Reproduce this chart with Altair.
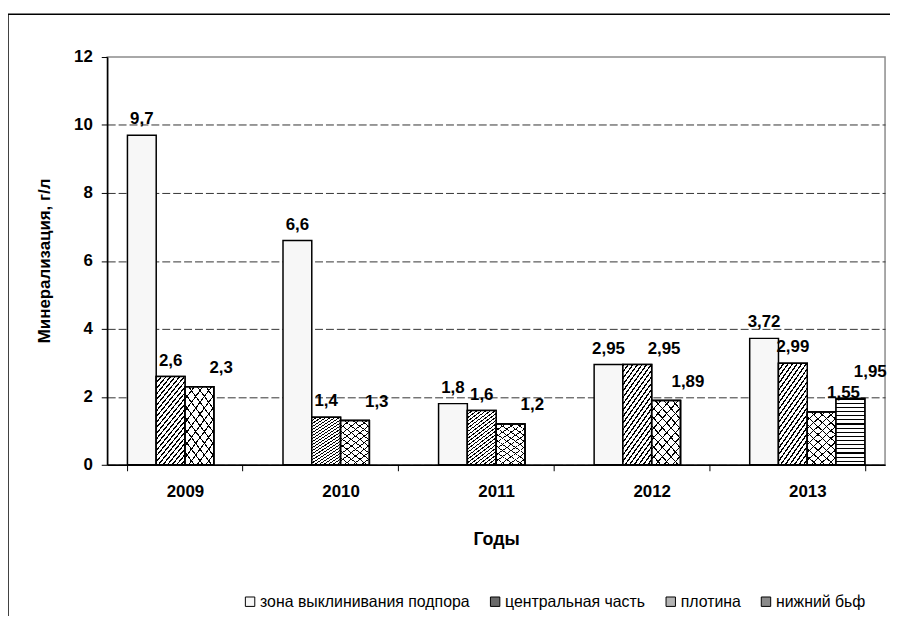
import altair as alt
import pandas as pd

years = ["2009", "2010", "2011", "2012", "2013"]
series = ["зона выклинивания подпора", "центральная часть", "плотина", "нижний бьф"]
zone = [9.7, 6.6, 1.8, 2.95, 3.72]
central = [2.6, 1.4, 1.6, 2.95, 2.99]
dam = [2.3, 1.3, 1.2, 1.89, 1.55]
lower = [None, None, None, None, 1.95]
y_ticks = [0, 2, 4, 6, 8, 10, 12]

rows = []
for i, yr in enumerate(years):
    for s, vals in zip(series, [zone, central, dam, lower]):
        v = vals[i]
        if v is not None:
            rows.append({"year": yr, "series": s, "value": v})
df = pd.DataFrame(rows)

FONT = "Liberation Sans"


def stripes(x1, y1, x2, y2, n, frac, ink, paper):
    stops = []
    for i in range(n):
        a = i / n
        b = (i + frac) / n
        c = (i + 1) / n
        stops += [
            alt.GradientStop(offset=a, color=ink),
            alt.GradientStop(offset=b, color=ink),
            alt.GradientStop(offset=b, color=paper),
            alt.GradientStop(offset=c, color=paper),
        ]
    return alt.LinearGradient(gradient="linear", stops=stops, x1=x1, y1=y1, x2=x2, y2=y2)


diag = stripes(0, 0, 0.483, 1.207, 22, 0.34, "#000000", "#ffffff")
cross_a = stripes(0, 0, 0.6, 1.2, 10, 0.15, "#000000", "#ffffff")
cross_b = stripes(0, 1, 0.6, -0.2, 10, 0.15, "#000000", "rgba(255,255,255,0)")
horiz = stripes(0, 0, 0, 1, 16, 0.28, "#000000", "#ffffff")

base = alt.Chart(df).encode(
    x=alt.X(
        "year:N",
        sort=years,
        scale=alt.Scale(paddingInner=0.26, paddingOuter=0.13),
        axis=alt.Axis(
            title="Годы",
            labelAngle=0,
            tickBand="extent",
            labelFont=FONT,
            labelFontSize=17,
            labelFontWeight="bold",
            labelColor="black",
            labelPadding=13,
            tickColor="black",
            tickSize=6,
            domainColor="black",
            domainWidth=1.5,
            titleFont=FONT,
            titleFontSize=18,
            titleFontWeight="bold",
            titleColor="black",
            titleY=75,
            titleBaseline="middle",
            grid=False,
        ),
    ),
    xOffset=alt.XOffset("series:N", sort=series, scale=alt.Scale(domain=series)),
    y=alt.Y(
        "value:Q",
        scale=alt.Scale(domain=[0, 12], nice=False),
        axis=alt.Axis(
            title="Минерализация, г/л",
            values=y_ticks,
            labelFont=FONT,
            labelFontSize=17,
            labelFontWeight="bold",
            labelColor="black",
            labelPadding=9,
            tickColor="black",
            tickSize=6,
            domainColor="black",
            domainWidth=1.5,
            grid=True,
            gridColor="#333333",
            gridDash=[8, 3],
            gridWidth=1,
            gridOpacity={"condition": {"test": "datum.value >= 12", "value": 0}, "value": 1},
            titleFont=FONT,
            titleFontSize=17,
            titleFontWeight="bold",
            titleColor="black",
            titleX=-63,
            titleY=205,
            titleAlign="center",
            titleBaseline="middle",
        ),
    ),
)

bars = base.mark_bar(stroke="black", strokeWidth=1.5).encode(
    color=alt.Color(
        "series:N",
        sort=series,
        scale=alt.Scale(domain=series, range=["#f7f7f7", "#6a6a6a", "#b4b4b4", "#8a8a8a"]),
        legend=alt.Legend(
            title=None,
            orient="none",
            legendX=136,
            legendY=541,
            direction="horizontal",
            columns=4,
            symbolType="square",
            symbolSize=90,
            symbolStrokeColor="black",
            symbolStrokeWidth=1,
            labelFont=FONT,
            labelFontSize=16,
            labelColor="black",
            labelOffset=2,
            labelLimit=0,
            columnPadding=17,
        ),
    )
)

central_bars = base.transform_filter(alt.datum.series == series[1]).mark_bar(
    fill=diag, stroke="black", strokeWidth=1.5
)
dam_a = base.transform_filter(alt.datum.series == series[2]).mark_bar(
    fill=cross_a, stroke="black", strokeWidth=1.5
)
dam_b = base.transform_filter(alt.datum.series == series[2]).mark_bar(
    fill=cross_b, stroke="black", strokeWidth=1.5
)
lower_bars = base.transform_filter(alt.datum.series == series[3]).mark_bar(
    fill=horiz, stroke="black", strokeWidth=1.5
)

# labels; a central-part label whose value equals the neighbouring
# zone value (labels would collide) is nudged to the right
lab = (
    base.transform_calculate(
        label="replace(toString(datum.value), '.', ',')",
        zv="datum.series == '" + series[0] + "' ? datum.value : null",
    )
    .transform_joinaggregate(zone_v="max(zv)", groupby=["year"])
)
is_central = "datum.series == '" + series[1] + "'"
text_kw = dict(font=FONT, fontSize=17, fontWeight="bold", color="black", baseline="alphabetic")
labels_zone = lab.transform_filter(alt.datum.series == series[0]).mark_text(
    dy=-11, **text_kw
).encode(text="label:N")
labels_central = lab.transform_filter(
    is_central + " && abs(datum.value - datum.zone_v) >= 0.1"
).mark_text(dy=-11, **text_kw).encode(text="label:N")
labels_central_nudged = lab.transform_filter(
    is_central + " && abs(datum.value - datum.zone_v) < 0.1"
).mark_text(dx=27, dy=-11, **text_kw).encode(text="label:N")
labels_dam = lab.transform_filter(alt.datum.series == series[2]).mark_text(
    dx=22, dy=-14, **text_kw
).encode(text="label:N")
labels_lower = lab.transform_filter(alt.datum.series == series[3]).mark_text(
    dx=20, dy=-22, **text_kw
).encode(text="label:N")

frame_src = alt.Chart(pd.DataFrame({"k": [0]}))
frame_top = frame_src.mark_rule(color="black", strokeWidth=1.5).encode(
    x=alt.value(-100), x2=alt.value(789), y=alt.value(-43)
)
frame_left = frame_src.mark_rule(color="black", strokeWidth=1.5).encode(
    x=alt.value(-100), y=alt.value(-43), y2=alt.value(600)
)

chart = (
    alt.layer(
        bars, central_bars, dam_a, dam_b, lower_bars,
        labels_zone, labels_central, labels_central_nudged, labels_dam, labels_lower,
        frame_top, frame_left,
    )
    .properties(
        width=784,
        height=411,
        autosize=alt.AutoSizeParams(type="none"),
        padding={"left": 100, "top": 47, "right": 5, "bottom": 150},
        background="white",
    )
    .configure_view(stroke="#8c8c8c", strokeWidth=1.5)
)

chart.save("out.html", embed_options={"renderer": "svg", "actions": False})
